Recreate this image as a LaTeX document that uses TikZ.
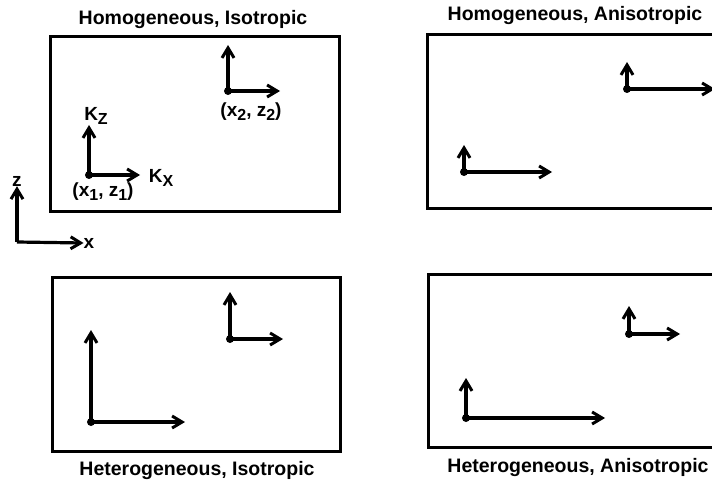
\documentclass[tikz,border=0pt]{standalone}
\usepackage{fontspec}
\setmainfont{Liberation Sans}
\usetikzlibrary{arrows.meta}
\tikzset{
  panel/.style={draw, line width=3pt},
  kvec/.style={line width=3.2pt, -{Straight Barb[length=10pt,width=12pt,line width=3pt]}},
  title/.style={font=\fontsize{19.5}{22}\selectfont\bfseries},
  lbl/.style={font=\fontsize{19}{21}\selectfont\bfseries, inner sep=0pt}
}
\newcommand{\lowsub}[1]{\raisebox{-0.35ex}{\fontsize{16}{18}\selectfont #1}}

\begin{document}
\begin{tikzpicture}[x=1pt, y=-1pt]
  \clip (0,0) rectangle (712,484);
  % panels
  \draw[panel] (50,37) rectangle (339,211);
  \draw[panel] (427,35) rectangle (716,208);
  \draw[panel] (52,277) rectangle (340,451);
  \draw[panel] (428,274) rectangle (716,447);
  \node[title] (tHI) at (193,20) {Homogeneous, Isotropic};
  \node[title] (tHA) at (575,16) {Homogeneous, Anisotropic};
  \node[title] (tEI) at (197,470) {Heterogeneous, Isotropic};
  \node[title] (tEA) at (578,467) {Heterogeneous, Anisotropic};

  % reference axes
  \coordinate (o) at (17,242);
  \node[lbl] (zax) at (17,181) {z};
  \node[lbl] (xax) at (89,243) {x};
  \draw[kvec] (o) -- (zax.south);
  \draw[kvec] (o) -- (xax.west);

  % homogeneous, isotropic
  \coordinate (p1) at (89,175);
  \coordinate (p2) at (228,91);
  \draw[kvec] (p1) -- (89,125);
  \draw[kvec] (p1) -- (140,175);
  \draw[kvec] (p2) -- (228,45);
  \draw[kvec] (p2) -- (280,91);
  \fill (p1) circle (4pt) (p2) circle (4pt);
  \node[lbl] (kz) at (96,116) {K\lowsub{Z}};
  \node[lbl] (kx) at (161,178) {K\lowsub{X}};
  \node[lbl] (q1) at (103,192) {(x\lowsub{1}, z\lowsub{1})};
  \node[lbl] (q2) at (251,112) {(x\lowsub{2}, z\lowsub{2})};

  % homogeneous, anisotropic
  \coordinate (a1) at (464,172);
  \coordinate (a2) at (627,89);
  \draw[kvec] (a1) -- (464,145);
  \draw[kvec] (a1) -- (552,172);
  \draw[kvec] (a2) -- (627,62);
  \draw[kvec] (a2) -- (715,89);
  \fill (a1) circle (4pt) (a2) circle (4pt);

  % heterogeneous, isotropic
  \coordinate (b1) at (91,422);
  \coordinate (b2) at (230,339);
  \draw[kvec] (b1) -- (91,330);
  \draw[kvec] (b1) -- (185,422);
  \draw[kvec] (b2) -- (230,292);
  \draw[kvec] (b2) -- (283,339);
  \fill (b1) circle (4pt) (b2) circle (4pt);

  % heterogeneous, anisotropic
  \coordinate (c1) at (466,418);
  \coordinate (c2) at (629,334);
  \draw[kvec] (c1) -- (466,378);
  \draw[kvec] (c1) -- (605,418);
  \draw[kvec] (c2) -- (629,306);
  \draw[kvec] (c2) -- (680,334);
  \fill (c1) circle (4pt) (c2) circle (4pt);
\end{tikzpicture}
\end{document}
